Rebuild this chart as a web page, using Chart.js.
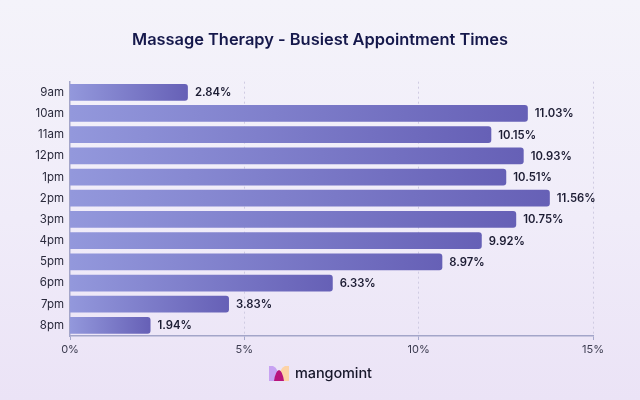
<!DOCTYPE html>
<html>
<head>
<meta charset="utf-8">
<script src="https://cdn.jsdelivr.net/npm/chart.js@4/dist/chart.umd.min.js"></script>
<style>
  html, body { margin: 0; padding: 0; }
  body {
    width: 640px; height: 400px; overflow: hidden;
    background: linear-gradient(180deg, #f4f3fa 0%, #f0ecf9 55%, #ebe3f6 100%);
    font-family: Inter, "Noto Sans", sans-serif;
  }
  #wrap { position: relative; width: 640px; height: 400px; }
  #logo { position: absolute; left: 269px; top: 364px; display: flex; align-items: center; }
  #logo span { margin-left: 6px; font-size: 14.5px; font-weight: 500; color: #17172a; letter-spacing: -0.1px; }
</style>
</head>
<body>
<div id="wrap">
  <canvas id="chart" width="640" height="400"></canvas>
  <div id="logo">
    <svg width="20" height="16" viewBox="0 0 20 16">
      <path d="M0 1 L4 1 Q10 3 10 16 L0 16 Z" fill="#c7a2f2"/>
      <path d="M20 1 L16 1 Q10 3 10 16 L20 16 Z" fill="#fdd3a6"/>
      <path d="M5 16 Q6.5 6 10 5 Q13.5 6 15 16 Z" fill="#b8137c"/>
    </svg>
    <span>mangomint</span>
  </div>
</div>
<script>
// ===== data =====
const hours = ["9am", "10am", "11am", "12pm", "1pm", "2pm", "3pm", "4pm", "5pm", "6pm", "7pm", "8pm"];
const shares = [2.84, 11.03, 10.15, 10.93, 10.51, 11.56, 10.75, 9.92, 8.97, 6.33, 3.83, 1.94];
const axisTicks = [0, 5, 10, 15];

// bar scale in the original runs a bit wider than the printed axis
const barScaleMax = 12.6;

// gradient along each bar, light on the left, dark on the right
function barGradient(c) {
  const chart = c.chart;
  if (!chart.chartArea) return "#7b7dc9";
  const xs = chart.scales.x;
  const x0 = xs.getPixelForValue(0);
  const x1 = xs.getPixelForValue(c.raw);
  const g = chart.ctx.createLinearGradient(x0, 0, Math.max(x1, x0 + 1), 0);
  g.addColorStop(0, "#9398dc");
  g.addColorStop(1, "#6660b6");
  return g;
}

// value labels at the end of the bars
const valueLabels = {
  id: "valueLabels",
  afterDatasetsDraw(chart) {
    const { ctx } = chart;
    const meta = chart.getDatasetMeta(0);
    ctx.save();
    ctx.font = "600 11.3px Inter";
    ctx.fillStyle = "#1c1c33";
    ctx.textBaseline = "middle";
    ctx.textAlign = "left";
    meta.data.forEach((bar, i) => {
      ctx.fillText(shares[i].toFixed(2) + "%", bar.x + 7, bar.y + 0.5);
    });
    ctx.restore();
  },
};

new Chart(document.getElementById("chart"), {
  type: "bar",
  data: {
    labels: hours,
    datasets: [{
      data: shares,
      xAxisID: "x",
      backgroundColor: barGradient,
      borderRadius: 3,
      borderSkipped: "start",
      barPercentage: 0.79,
      categoryPercentage: 1,
    }],
  },
  options: {
    indexAxis: "y",
    responsive: false,
    animation: false,
    layout: { padding: 0 },
    plugins: {
      legend: { display: false },
      tooltip: { enabled: false },
      title: {
        display: true,
        text: "Massage Therapy - Busiest Appointment Times",
        color: "#15184b",
        font: { family: "Inter", size: 16.4, weight: "600" },
        padding: { top: 30, bottom: 32 },
      },
    },
    scales: {
      x: { display: false, min: 0, max: barScaleMax },
      x2: {
        position: "bottom",
        min: axisTicks[0],
        max: axisTicks[axisTicks.length - 1],
        afterBuildTicks: (s) => { s.ticks = axisTicks.map((v) => ({ value: v })); },
        afterFit: (s) => { s.height = 64; },
        ticks: {
          callback: (v) => v + "%",
          color: "#3b3b4f",
          font: { family: "Inter", size: 11 },
          padding: 3,
        },
        grid: {
          color: (c) => (c.tick && c.tick.value === 0 ? "rgba(0,0,0,0)" : "#cfcbe2"),
          tickColor: "#a6a8cc",
          tickLength: 4,
          lineWidth: 1,
        },
        border: { display: true, color: "#a3a5c9", width: 1.5, dash: [2, 3] },
      },
      y: {
        afterFit: (s) => { s.width = 70; },
        grid: { display: false, drawTicks: false },
        border: { display: true, color: "#a3a5c9", width: 1.5 },
        ticks: {
          color: "#2a2a3c",
          font: { family: "Inter", size: 11.5 },
          padding: 6,
        },
      },
      // empty right-hand axis keeps the right margin so the title stays centred
      yRight: {
        type: "linear",
        position: "right",
        min: 0,
        max: 1,
        afterFit: (s) => { s.width = 47; },
        grid: { display: false, drawTicks: false },
        border: { display: false },
        ticks: { display: false },
      },
    },
  },
  plugins: [valueLabels],
});
</script>
</body>
</html>
